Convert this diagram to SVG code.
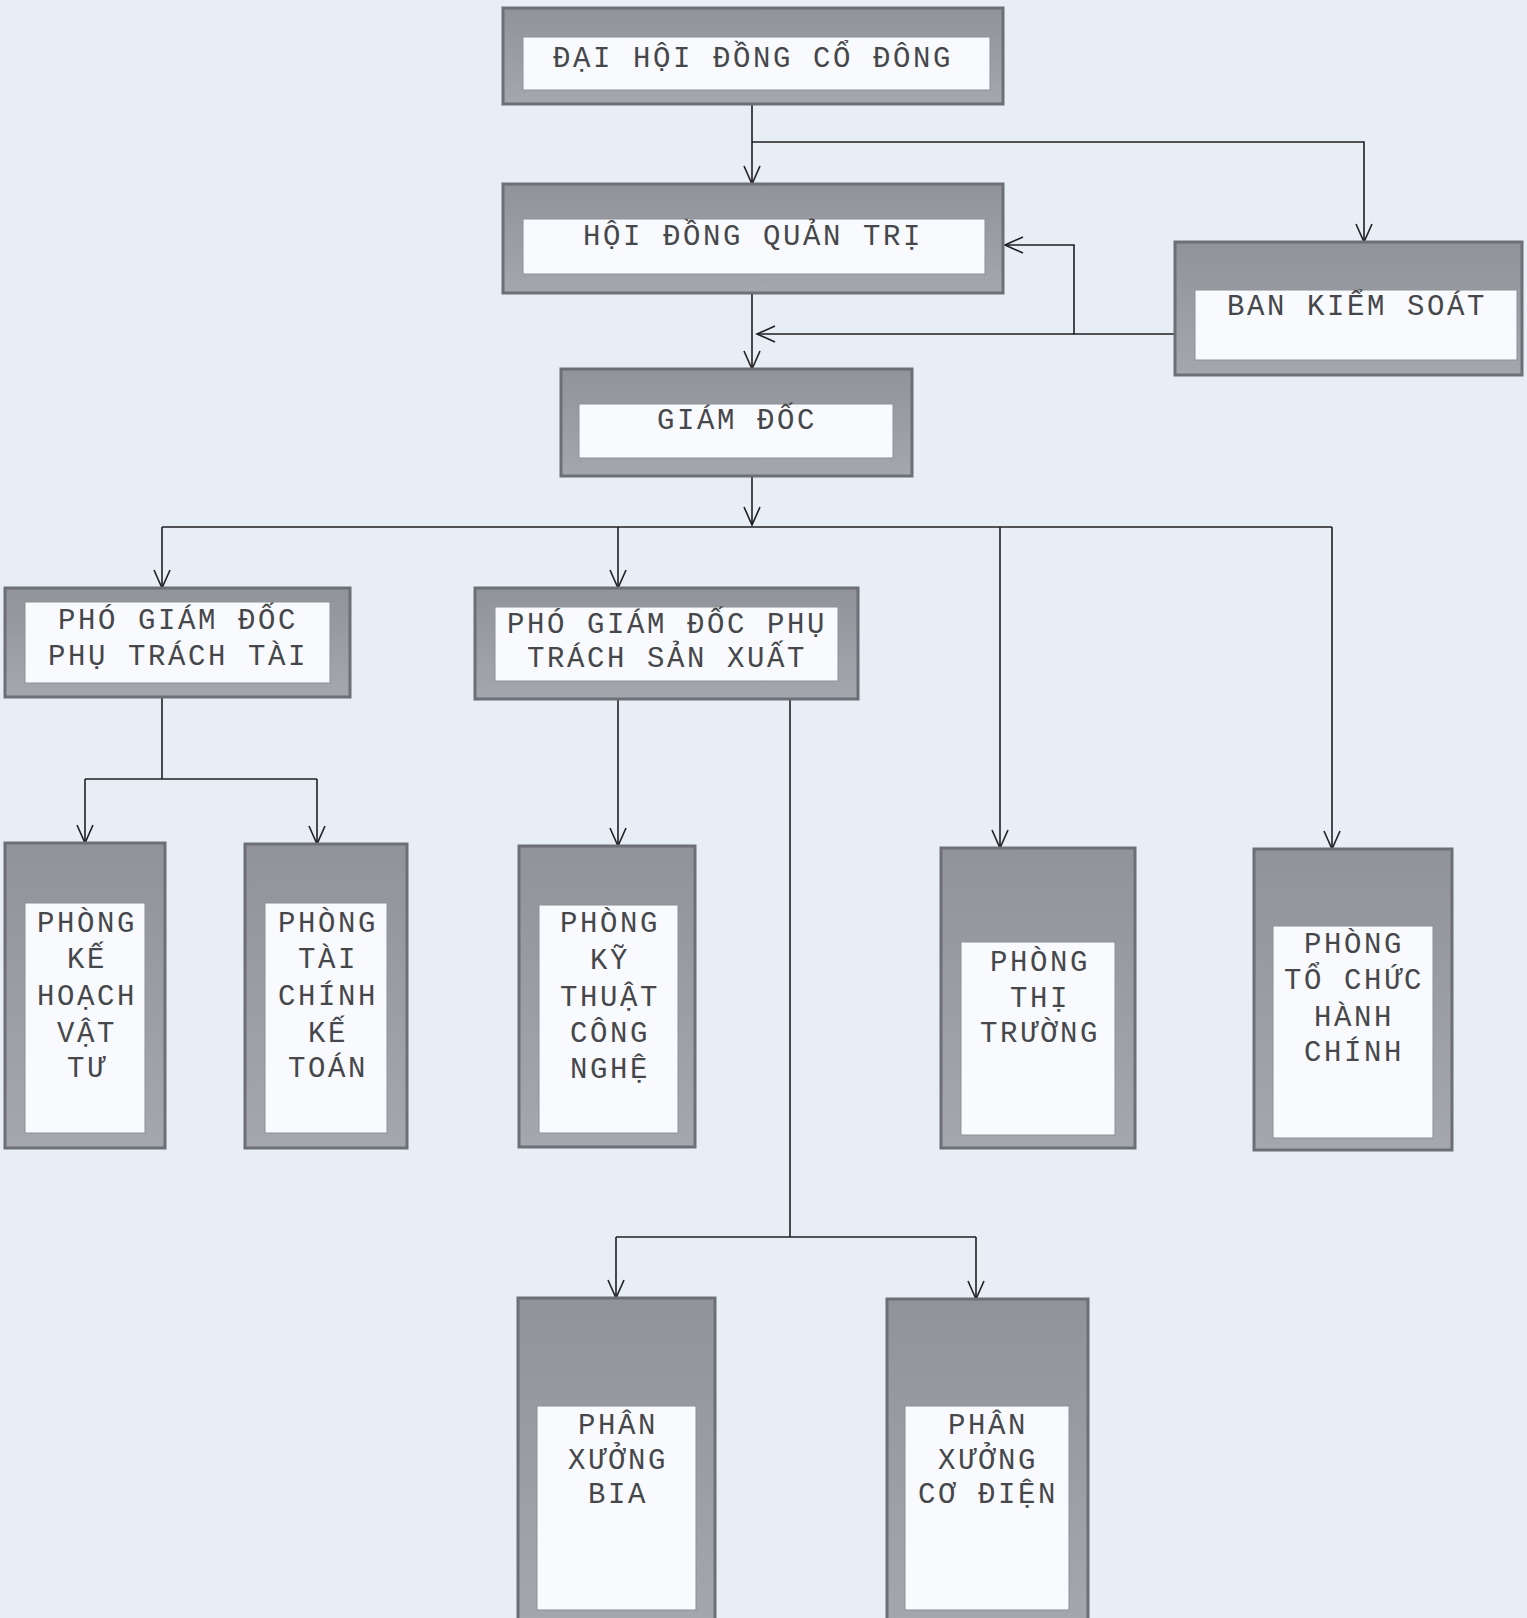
<svg xmlns="http://www.w3.org/2000/svg" width="1527" height="1618" viewBox="0 0 1527 1618">
<style>
.outer{fill:url(#bg);stroke:#6c6f75;stroke-width:3}
.inner{fill:#f8fafd;stroke:#8d9096;stroke-width:1}
.t{font-family:"Liberation Mono","DejaVu Sans Mono",monospace;font-size:29px;letter-spacing:2.6px;fill:#46474b;text-anchor:middle}
.c{fill:none;stroke:#1f1f22;stroke-width:1.6}
.a{marker-end:url(#arr)}
</style>
<defs>
<linearGradient id="bg" x1="0" y1="0" x2="0" y2="1">
<stop offset="0" stop-color="#909399"/>
<stop offset="1" stop-color="#a4a7ad"/>
</linearGradient>
<marker id="arr" markerUnits="userSpaceOnUse" viewBox="-20 -10 22 20" refX="0" refY="0" markerWidth="22" markerHeight="20" orient="auto">
<path d="M-18,-8 L0,0 L-18,8" fill="none" stroke="#1f1f22" stroke-width="1.6"/>
</marker>
</defs>
<rect x="0" y="0" width="1527" height="1618" fill="#e8eef6"/>

<g id="connectors">
<path class="c a" d="M752,104 V184"/>
<path class="c a" d="M752,142 H1364 V242"/>
<path class="c a" d="M1175,334 H1074 V245 H1005"/>
<path class="c a" d="M1074,334 H757"/>
<path class="c a" d="M752,293 V369"/>
<path class="c a" d="M752,476 V525"/>
<path class="c" d="M162,527 H1332"/>
<path class="c a" d="M162,527 V588"/>
<path class="c a" d="M618,527 V588"/>
<path class="c a" d="M1000,527 V848"/>
<path class="c a" d="M1332,527 V849"/>
<path class="c" d="M162,697 V779"/>
<path class="c" d="M85,779 H317"/>
<path class="c a" d="M85,779 V843"/>
<path class="c a" d="M317,779 V844"/>
<path class="c a" d="M618,699 V846"/>
<path class="c" d="M790,699 V1237"/>
<path class="c" d="M616,1237 H976"/>
<path class="c a" d="M616,1237 V1298"/>
<path class="c a" d="M976,1237 V1299"/>
</g>

<g id="dai-hoi-dong-co-dong">
<rect class="outer" x="503" y="8" width="500" height="96"/>
<rect class="inner" x="523" y="37" width="467" height="53"/>
<text class="t" x="753" y="67">ĐẠI HỘI ĐỒNG CỔ ĐÔNG</text>
</g>

<g id="hoi-dong-quan-tri">
<rect class="outer" x="503" y="184" width="500" height="109"/>
<rect class="inner" x="523" y="219" width="462" height="55"/>
<text class="t" x="753" y="245">HỘI ĐỒNG QUẢN TRỊ</text>
</g>

<g id="ban-kiem-soat">
<rect class="outer" x="1175" y="242" width="347" height="133"/>
<rect class="inner" x="1195" y="290" width="322" height="70"/>
<text class="t" x="1357" y="315">BAN KIỂM SOÁT</text>
</g>

<g id="giam-doc">
<rect class="outer" x="561" y="369" width="351" height="107"/>
<rect class="inner" x="579" y="404" width="314" height="54"/>
<text class="t" x="737" y="429">GIÁM ĐỐC</text>
</g>

<g id="pgd-tai-chinh">
<rect class="outer" x="5" y="588" width="345" height="109"/>
<rect class="inner" x="25" y="602" width="305" height="81"/>
<text class="t" x="178" y="629">PHÓ GIÁM ĐỐC</text>
<text class="t" x="178" y="665">PHỤ TRÁCH TÀI</text>
</g>

<g id="pgd-san-xuat">
<rect class="outer" x="475" y="588" width="383" height="111"/>
<rect class="inner" x="495" y="607" width="343" height="74"/>
<text class="t" x="667" y="633">PHÓ GIÁM ĐỐC PHỤ</text>
<text class="t" x="667" y="667">TRÁCH SẢN XUẤT</text>
</g>

<g id="phong-ke-hoach-vat-tu">
<rect class="outer" x="5" y="843" width="160" height="305"/>
<rect class="inner" x="25" y="903" width="120" height="230"/>
<text class="t" x="87" y="932">PHÒNG</text>
<text class="t" x="87" y="968">KẾ</text>
<text class="t" x="87" y="1005">HOẠCH</text>
<text class="t" x="87" y="1042">VẬT</text>
<text class="t" x="87" y="1077">TƯ</text>
</g>

<g id="phong-tai-chinh-ke-toan">
<rect class="outer" x="245" y="844" width="162" height="304"/>
<rect class="inner" x="265" y="903" width="122" height="230"/>
<text class="t" x="328" y="932">PHÒNG</text>
<text class="t" x="328" y="968">TÀI</text>
<text class="t" x="328" y="1005">CHÍNH</text>
<text class="t" x="328" y="1042">KẾ</text>
<text class="t" x="328" y="1077">TOÁN</text>
</g>

<g id="phong-ky-thuat-cong-nghe">
<rect class="outer" x="519" y="846" width="176" height="301"/>
<rect class="inner" x="539" y="905" width="139" height="228"/>
<text class="t" x="610" y="932">PHÒNG</text>
<text class="t" x="610" y="969">KỸ</text>
<text class="t" x="610" y="1006">THUẬT</text>
<text class="t" x="610" y="1042">CÔNG</text>
<text class="t" x="610" y="1078">NGHỆ</text>
</g>

<g id="phong-thi-truong">
<rect class="outer" x="941" y="848" width="194" height="300"/>
<rect class="inner" x="961" y="942" width="154" height="193"/>
<text class="t" x="1040" y="971">PHÒNG</text>
<text class="t" x="1040" y="1007">THỊ</text>
<text class="t" x="1040" y="1042">TRƯỜNG</text>
</g>

<g id="phong-to-chuc-hanh-chinh">
<rect class="outer" x="1254" y="849" width="198" height="301"/>
<rect class="inner" x="1273" y="926" width="160" height="212"/>
<text class="t" x="1354" y="953">PHÒNG</text>
<text class="t" x="1354" y="989">TỔ CHỨC</text>
<text class="t" x="1354" y="1026">HÀNH</text>
<text class="t" x="1354" y="1061">CHÍNH</text>
</g>

<g id="phan-xuong-bia">
<rect class="outer" x="518" y="1298" width="197" height="330"/>
<rect class="inner" x="537" y="1406" width="159" height="204"/>
<text class="t" x="618" y="1434">PHÂN</text>
<text class="t" x="618" y="1469">XƯỞNG</text>
<text class="t" x="618" y="1503">BIA</text>
</g>

<g id="phan-xuong-co-dien">
<rect class="outer" x="887" y="1299" width="201" height="330"/>
<rect class="inner" x="905" y="1406" width="164" height="204"/>
<text class="t" x="988" y="1434">PHÂN</text>
<text class="t" x="988" y="1469">XƯỞNG</text>
<text class="t" x="988" y="1503">CƠ ĐIỆN</text>
</g>
</svg>
